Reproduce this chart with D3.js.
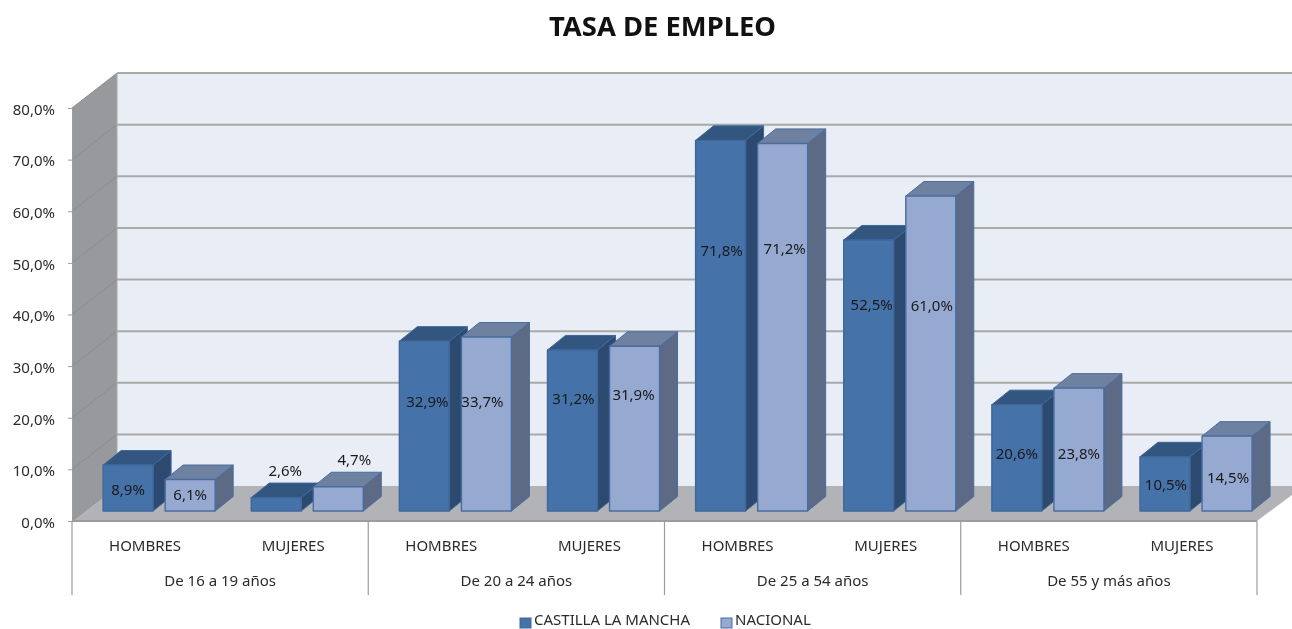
<!DOCTYPE html>
<html lang="es"><head><meta charset="utf-8">
<style>html,body{margin:0;padding:0;background:#fff;overflow:hidden}svg{display:block;filter:blur(0.35px)}text{font-family:"Noto Sans",sans-serif;fill:#2b2b2b}</style>
<script src="https://cdn.jsdelivr.net/npm/d3@7/dist/d3.min.js"></script>
</head><body><svg id="c" width="1292" height="629"></svg>
<script>
const title = "TASA DE EMPLEO";
const groups = ["De 16 a 19 años","De 20 a 24 años","De 25 a 54 años","De 55 y más años"];
const sexes = ["HOMBRES","MUJERES"];
const seriesNames = ["CASTILLA LA MANCHA","NACIONAL"];
const castilla = [8.9,2.6,32.9,31.2,71.8,52.5,20.6,10.5];
const nacional = [6.1,4.7,33.7,31.9,71.2,61.0,23.8,14.5];
const yTicks = [0,10,20,30,40,50,60,70,80];
// height (in axis units) at which each hand-placed data label sits in the source chart
const labelAtCastilla = [4.1,7.75,21.1,21.7,50.4,39.9,11.2,5.2];
const labelAtNacional = [3.1,9.9,21.1,22.5,50.9,39.7,11.2,6.4];
const labelShiftCastilla = [0,9,3,1,1,3,0,1];
const labelShiftNacional = [0,16,-4,-1,2,1,0,1];

const svg = d3.select("#c");
const fmt = v => v.toFixed(1).replace(".", ",") + "%";
const D = {x:45,y:-35}, B = {x:18,y:-14.5};
const left = 72, right = 1257, base = 521, top80 = 108, barBase = 10;
const y = d3.scaleLinear().domain([0,80]).range([base,top80]);
const cats = d3.range(8);
const x = d3.scaleBand().domain(cats).range([left,right]);
const barOffset = x.bandwidth()*0.21, barW = x.bandwidth()*0.3375, barStep = x.bandwidth()*0.419;
const path = pts => "M" + pts.map(p=>p.join(",")).join("L") + "Z";
const fs = "15px";

svg.append("text").attr("x",662.5).attr("y",36).attr("text-anchor","middle")
  .style("font-size","27.4px").style("font-weight","700").style("fill","#111").text(title);

// walls and floor
svg.append("rect").attr("x",left+D.x).attr("y",y(80)+D.y).attr("width",1292-left-D.x).attr("height",y(0)-y(80)).attr("fill","#e9edf6");
svg.append("path").attr("fill","#97999c").attr("d",path([[left,y(80)],[left+D.x,y(80)+D.y],[left+D.x,y(0)+D.y],[left,y(0)]]));
svg.append("path").attr("fill","#b2b3b6").attr("d",path([[left,y(0)],[left+D.x,y(0)+D.y],[1292,y(0)+D.y],[1292,y(0)-26],[right,y(0)]]));

// grid
yTicks.forEach(t=>{
  if(t>0) svg.append("line").attr("x1",left+D.x).attr("x2",1292).attr("y1",y(t)+D.y).attr("y2",y(t)+D.y).attr("stroke","#a9a9a9").attr("stroke-width",2);
  svg.append("line").attr("x1",left).attr("x2",left+D.x).attr("y1",y(t)).attr("y2",y(t)+D.y).attr("stroke","#8b8d90").attr("stroke-width",1);
});
svg.append("line").attr("x1",left+D.x).attr("x2",left+D.x).attr("y1",y(80)+D.y).attr("y2",y(0)+D.y).attr("stroke","#a9a9a9");
svg.append("line").attr("x1",left).attr("x2",right).attr("y1",y(0)).attr("y2",y(0)).attr("stroke","#9c9c9c").attr("stroke-width",2);

// y axis
const ax = svg.append("g").attr("transform",`translate(${left},0)`)
  .call(d3.axisLeft(y).tickValues(yTicks).tickSize(4).tickPadding(13).tickFormat(v=>v.toFixed(1).replace(".",",")+"%"));
ax.select(".domain").attr("stroke","#9c9c9c");
ax.selectAll("line").attr("stroke","#9c9c9c");
ax.selectAll("text").style("font-size",fs).style("font-family",'"Noto Sans",sans-serif').attr("dy","0.42em");

// bars
const colors = [
  {front:"#4572a9",top:"#32567f",side:"#2c4a70",stroke:"#3f6799"},
  {front:"#95a9d1",top:"#6f81a0",side:"#5d6a86",stroke:"#4a6c9e"}
];
const seriesVals = [castilla,nacional];
cats.forEach(i=>{
  seriesVals.forEach((vals,s)=>{
    const c = colors[s], x0 = x(i)+barOffset+s*barStep, x1 = x0+barW;
    const y0 = y(0)-barBase, y1 = y(vals[i])-barBase;
    const g = svg.append("g").attr("stroke",c.stroke).attr("stroke-width",1).attr("stroke-linejoin","round");
    g.append("path").attr("fill",c.side).attr("d",path([[x1,y0],[x1+B.x,y0+B.y],[x1+B.x,y1+B.y],[x1,y1]]));
    g.append("path").attr("fill",c.top).attr("d",path([[x0,y1],[x0+B.x,y1+B.y],[x1+B.x,y1+B.y],[x1,y1]]));
    g.append("rect").attr("x",x0).attr("y",y1).attr("width",barW).attr("height",y0-y1).attr("fill",c.front).attr("stroke-width",1.4);
  });
});
// data labels
[[castilla,labelAtCastilla,labelShiftCastilla],[nacional,labelAtNacional,labelShiftNacional]].forEach((d,s)=>{
  cats.forEach(i=>{
    svg.append("text").attr("x",x(i)+barOffset+s*barStep+barW/2+d[2][i]).attr("y",y(d[1][i])-barBase)
      .attr("dy","0.36em").attr("text-anchor","middle").style("font-size",fs).style("fill","#1a1a1a").text(fmt(d[0][i]));
  });
});

// multi-level category axis
const sep = d3.range(0,9,2);
sep.forEach(k=>{
  const px = k===8 ? right : x(k);
  svg.append("line").attr("x1",px).attr("x2",px).attr("y1",y(0)).attr("y2",595).attr("stroke","#9c9c9c").attr("stroke-width",1.2);
});
cats.forEach(i=>{
  svg.append("text").attr("x",x(i)+x.bandwidth()/2-1).attr("y",551).attr("text-anchor","middle").style("font-size",fs).text(sexes[i%2]);
});
groups.forEach((g,k)=>{
  svg.append("text").attr("x",x(k*2)+x.bandwidth()).attr("y",586).attr("text-anchor","middle").style("font-size",fs).text(g);
});

// legend
[[520,534],[721,735]].forEach((p,s)=>{
  svg.append("rect").attr("x",p[0]).attr("y",618).attr("width",11).attr("height",10).attr("fill",colors[s].front).attr("stroke",colors[s].stroke);
  svg.append("text").attr("x",p[1]).attr("y",624.5).style("font-size",fs).text(seriesNames[s]);
});
</script></body></html>
